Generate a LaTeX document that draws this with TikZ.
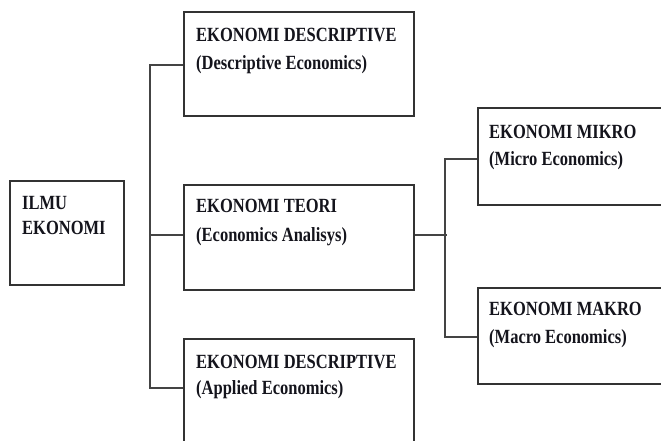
\documentclass[tikz,border=0pt]{standalone}
\usepackage{fontspec}
\usepackage{graphicx}
\setmainfont{Liberation Serif}
\usetikzlibrary{calc}
\definecolor{boxline}{HTML}{333333}
\definecolor{connline}{HTML}{444444}
\definecolor{txt}{HTML}{14141C}
\newcommand{\stx}[1]{\scalebox{1}[1.22]{#1}}
\tikzset{
  box/.style={draw=boxline, line width=1.8pt, rectangle, inner sep=0pt, anchor=north west},
  conn/.style={draw=connline, line width=1.8pt},
  lbl/.style={anchor=base west, inner sep=0pt, text=txt, font=\fontsize{16.5}{20}\selectfont\bfseries}
}
\begin{document}
\begin{tikzpicture}[x=1pt,y=-1pt]
\useasboundingbox (0,0) rectangle (661,440);
\fill[white] (0,0) rectangle (661,440);
\clip (0,0) rectangle (661,440);
% boxes
\node[box, minimum width=114pt, minimum height=104pt] (ilmu) at (9,180) {};
\node[box, minimum width=230pt, minimum height=104pt] (top) at (183,11) {};
\node[box, minimum width=230pt, minimum height=105pt] (mid) at (183,184) {};
\node[box, minimum width=230pt, minimum height=110pt] (bot) at (183,338) {};
\node[box, minimum width=190pt, minimum height=97pt] (mikro) at (477,107) {};
\node[box, minimum width=190pt, minimum height=96pt] (makro) at (477,287) {};
% texts
\node[lbl] (ilmu1) at ($(ilmu.north west)+(13,29)$) {\stx{ILMU}};
\node[lbl] (ilmu2) at ($(ilmu.north west)+(13,54.5)$) {\stx{EKONOMI}};
\node[lbl] (top1) at ($(top.north west)+(13,30)$) {\stx{EKONOMI DESCRIPTIVE}};
\node[lbl] (top2) at ($(top.north west)+(13,58.5)$) {\stx{(Descriptive Economics)}};
\node[lbl] (mid1) at ($(mid.north west)+(13,28.5)$) {\stx{EKONOMI TEORI}};
\node[lbl] (mid2) at ($(mid.north west)+(13,57.5)$) {\stx{(Economics Analisys)}};
\node[lbl] (bot1) at ($(bot.north west)+(13,30.5)$) {\stx{EKONOMI DESCRIPTIVE}};
\node[lbl] (bot2) at ($(bot.north west)+(13,56.5)$) {\stx{(Applied Economics)}};
\node[lbl] (mikro1) at ($(mikro.north west)+(12,31.5)$) {\stx{EKONOMI MIKRO}};
\node[lbl] (mikro2) at ($(mikro.north west)+(12,58.5)$) {\stx{(Micro Economics)}};
\node[lbl] (makro1) at ($(makro.north west)+(12,28.5)$) {\stx{EKONOMI MAKRO}};
\node[lbl] (makro2) at ($(makro.north west)+(12,56.5)$) {\stx{(Macro Economics)}};
% connectors
\path (top.north west) ++(0,54) coordinate (ct);
\path (mid.north west) ++(0,51) coordinate (cm);
\path (bot.north west) ++(0,50) coordinate (cb);
\draw[conn] (ct) -- ++(-33,0) |- (cb);
\draw[conn] (cm) -- ++(-33,0);
\path (mid.north east) ++(0,51) coordinate (cr);
\path (mikro.north west) ++(0,52) coordinate (cmi);
\path (makro.north west) ++(0,50) coordinate (cma);
\draw[conn] (cr) -- ++(32,0);
\draw[conn] (cmi) -- ++(-32,0) |- (cma);
\end{tikzpicture}
\end{document}
